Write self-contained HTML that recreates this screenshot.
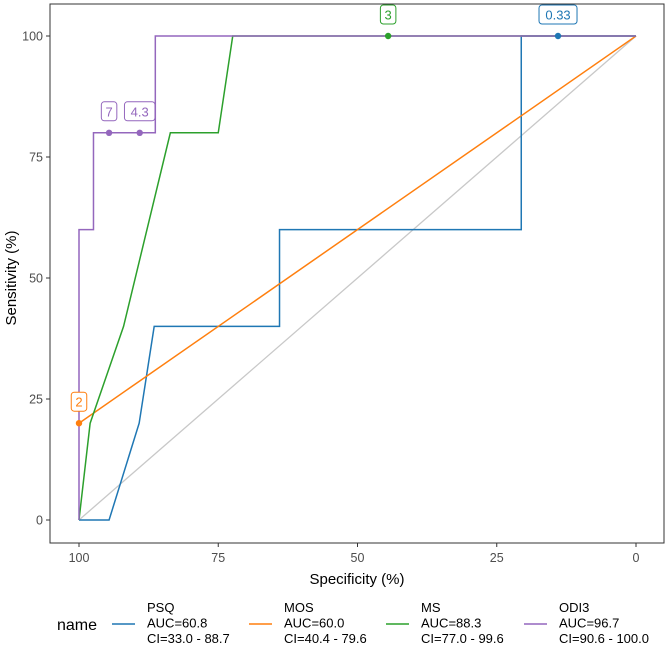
<!DOCTYPE html>
<html><head><meta charset="utf-8"><style>
body{margin:0;background:#fff;font-family:"Liberation Sans",sans-serif;}
svg text{font-family:"Liberation Sans",sans-serif;}
</style></head><body>
<svg id="c" width="666" height="645" xmlns="http://www.w3.org/2000/svg">
<rect x="50" y="4" width="614" height="539" fill="#fff" stroke="#333" stroke-width="1"/>
<g id="g"></g>
<text x="357" y="584" text-anchor="middle" font-size="15" fill="#000">Specificity (%)</text>
<text transform="translate(16,278) rotate(-90)" text-anchor="middle" font-size="15" fill="#000">Sensitivity (%)</text>
</svg>
<script>
const xTicks=[100,75,50,25,0];
const yTicks=[0,25,50,75,100];
const seriesNames=["PSQ","MOS","MS","ODI3"];
const seriesColors=["#1f77b4","#ff7f0e","#2ca02c","#9467bd"];
const aucLabels=["AUC=60.8","AUC=60.0","AUC=88.3","AUC=96.7"];
const ciLabels=["CI=33.0 - 88.7","CI=40.4 - 79.6","CI=77.0 - 99.6","CI=90.6 - 100.0"];
const psqSpec=[100,94.6,89.2,86.5,64,64,20.6,20.6,0];
const psqSens=[0,0,20,40,40,60,60,100,100];
const mosSpec=[100,0];
const mosSens=[20,100];
const msSpec=[100,98,92,83.6,75,72.4,0];
const msSens=[0,20,40,80,80,100,100];
const odiSpec=[100,100,97.4,97.4,86.3,86.3,0];
const odiSens=[0,60,60,80,80,100,100];
const ptSeries=[0,1,2,3,3];
const ptSpec=[14,100,44.5,94.6,89.1];
const ptSens=[100,20,100,80,80];
const ptLabels=["0.33","2","3","7","4.3"];
const X=v=>636-(v/100)*557;
const Y=v=>520-(v/100)*484;
const NS="http://www.w3.org/2000/svg";
const g=document.getElementById('g');
const svg=document.getElementById('c');
function mk(t,a,p){const e=document.createElementNS(NS,t);for(const k in a)e.setAttribute(k,a[k]);(p||g).appendChild(e);return e;}
let d=mk('line',{x1:X(100),y1:Y(0),x2:X(0),y2:Y(100),stroke:'#c8c8c8','stroke-width':1.3});


xTicks.forEach(v=>{
 mk('line',{x1:X(v),x2:X(v),y1:543,y2:547,stroke:'#333'},svg);
 const t=mk('text',{x:X(v),y:562,'text-anchor':'middle','font-size':12.5,fill:'#4d4d4d'},svg);t.textContent=v;
 
 
});
yTicks.forEach(v=>{
 mk('line',{x1:46,x2:50,y1:Y(v),y2:Y(v),stroke:'#333'},svg);
 const t=mk('text',{x:43,y:Y(v)+4.5,'text-anchor':'end','font-size':12.5,fill:'#4d4d4d'},svg);t.textContent=v;
 
 
});
const data=[[psqSpec,psqSens],[mosSpec,mosSens],[msSpec,msSens],[odiSpec,odiSens]];
data.forEach((s,i)=>{
 const pts=s[0].map((v,j)=>X(v)+','+Y(s[1][j])).join(' ');
 const p=mk('polyline',{points:pts,fill:'none',stroke:seriesColors[i],'stroke-width':1.5});
 
 
});
ptSpec.forEach((v,i)=>{
 const col=seriesColors[ptSeries[i]];
 const c=mk('circle',{cx:X(v),cy:Y(ptSens[i]),r:3.2,fill:col});
 
 
 const w=ptLabels[i].length*7.5+8;
 const r=mk('rect',{x:X(v)-w/2,y:Y(ptSens[i])-31,width:w,height:19,rx:3,fill:'#fff',stroke:col,'stroke-width':1});
 
 
 const t=mk('text',{x:X(v),y:Y(ptSens[i])-16.5,'text-anchor':'middle','font-size':13,fill:col});
 t.textContent=ptLabels[i];
 
 
});
const lt=mk('text',{x:57,y:630,'font-size':16,fill:'#000'},svg);lt.textContent='name';


const lx=[112,249,386,524];
seriesNames.forEach((n,i)=>{
 const gg=mk('g',{},svg);
 
 
 mk('line',{x1:lx[i],x2:lx[i]+23,y1:624,y2:624,stroke:seriesColors[i],'stroke-width':1.5},gg);
 [n,aucLabels[i],ciLabels[i]].forEach((s,k)=>{const t=mk('text',{x:lx[i]+35,y:612+k*15.5,'font-size':13,fill:'#000'},gg);t.textContent=s;});
});
</script>
</body></html>
